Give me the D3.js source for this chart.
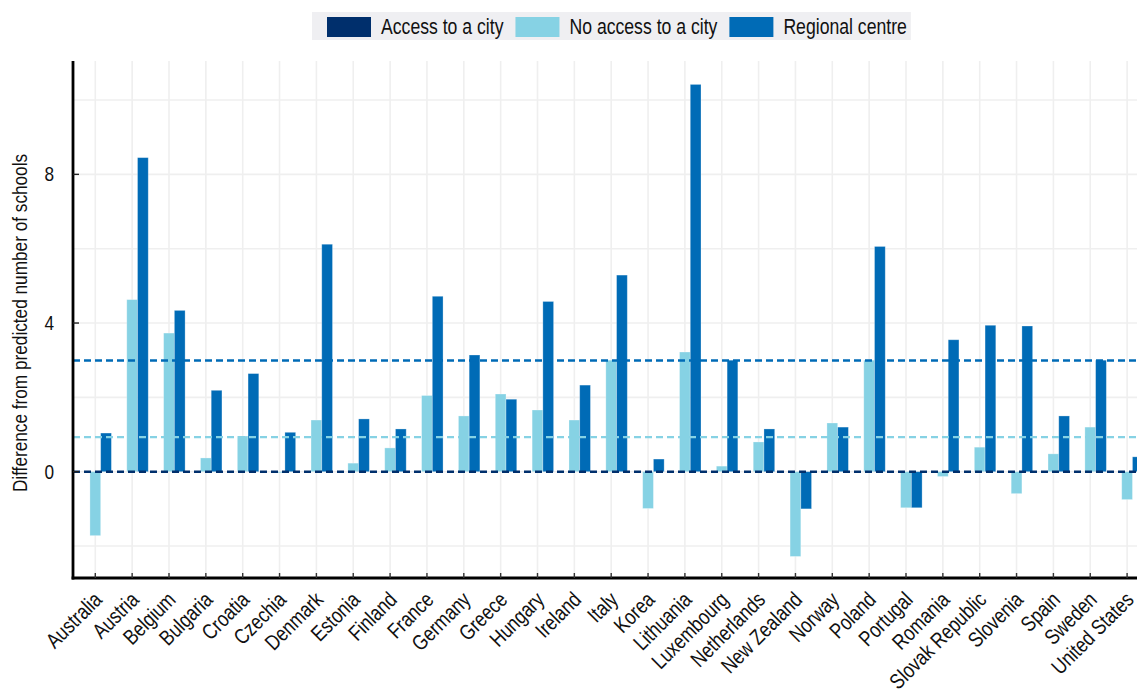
<!DOCTYPE html>
<html>
<head>
<meta charset="utf-8">
<script src="https://cdn.jsdelivr.net/npm/d3@7"></script>
<style>
  html, body { margin: 0; padding: 0; background: #fff; }
  svg { display: block; font-family: "Liberation Sans", Arial, sans-serif; }
</style>
</head>
<body>
<svg id="chart" width="1137" height="696"></svg>
<script>
// Countries along the x axis
const countries = ["Australia", "Austria", "Belgium", "Bulgaria", "Croatia", "Czechia", "Denmark",
  "Estonia", "Finland", "France", "Germany", "Greece", "Hungary", "Ireland", "Italy", "Korea",
  "Lithuania", "Luxembourg", "Netherlands", "New Zealand", "Norway", "Poland", "Portugal",
  "Romania", "Slovak Republic", "Slovenia", "Spain", "Sweden", "United States"];

// Difference from predicted number of schools, by municipality type
const accessToCity = [0, 0, 0, 0, 0, 0, 0, 0, 0, 0, 0, 0, 0, 0, 0, 0, 0, 0, 0, 0, 0, 0, 0, 0, 0, 0, 0, 0, 0];
const noAccessToCity = [-1.72, 4.63, 3.73, 0.37, 0.96, -0.03, 1.39, 0.23, 0.64, 2.05, 1.50, 2.09, 1.66, 1.39,
  3.00, -0.99, 3.22, 0.15, 0.80, -2.28, 1.31, 3.00, -0.97, -0.13, 0.66, -0.59, 0.48, 1.20, -0.75];
const regionalCentre = [1.04, 8.45, 4.34, 2.19, 2.64, 1.06, 6.12, 1.42, 1.15, 4.72, 3.14, 1.95, 4.58, 2.33,
  5.29, 0.34, 10.42, 3.00, 1.15, -1.00, 1.20, 6.06, -0.97, 3.55, 3.94, 3.92, 1.50, 3.00, 0.40];

// Cross-country averages, drawn as dashed reference lines
const seriesAverages = [0, 0.93, 2.99];

const seriesNames = ["Access to a city", "No access to a city", "Regional centre"];
const seriesColors = ["#002F6C", "#86D2E4", "#006BB6"];
const yTickValues = [0, 4, 8];
const yGridValues = [-2, 0, 2, 4, 6, 8, 10];

const series = [accessToCity, noAccessToCity, regionalCentre];

const svg = d3.select("#chart");
const plot = { left: 73, right: 1137, top: 61, bottom: 578 };
const SQUEEZE = 0.82; // narrow typeface look

const x = d3.scalePoint().domain(countries).range([95.3, 1127.1]);
const sub = d3.scaleBand().domain(seriesNames).range([-16.1, 16.1]);
const y = d3.scaleLinear().domain([-2.86, 11.05]).range([plot.bottom, plot.top]);

// Clip the plotting area
svg.append("defs").append("clipPath").attr("id", "plotClip")
  .append("rect").attr("x", plot.left).attr("y", plot.top - 2)
  .attr("width", plot.right - plot.left).attr("height", plot.bottom - plot.top + 2);

const gridG = svg.append("g").attr("clip-path", "url(#plotClip)");
// Vertical gridlines
gridG.selectAll("line.vg").data(countries).join("line")
  .attr("x1", d => x(d)).attr("x2", d => x(d))
  .attr("y1", plot.top).attr("y2", plot.bottom)
  .attr("stroke", "#efefef").attr("stroke-width", 1.6);
// Horizontal gridlines
gridG.selectAll("line.hg").data(yGridValues).join("line")
  .attr("x1", plot.left).attr("x2", plot.right)
  .attr("y1", d => y(d)).attr("y2", d => y(d))
  .attr("stroke", "#efefef").attr("stroke-width", 1.6);

// Bars
const barG = svg.append("g").attr("clip-path", "url(#plotClip)");
series.forEach((vals, si) => {
  barG.append("g").selectAll("rect").data(vals.map((v, i) => ({ c: countries[i], v })))
    .join("rect")
    .attr("x", d => x(d.c) + sub(seriesNames[si]))
    .attr("width", sub.bandwidth())
    .attr("y", d => y(Math.max(0, d.v)))
    .attr("height", d => Math.abs(y(d.v) - y(0)))
    .attr("fill", seriesColors[si])
    .attr("stroke", "rgba(255,255,255,0.35)")
    .attr("stroke-width", 0.8);
});

// Dashed average lines
const avgOrder = [1, 2, 0];
avgOrder.forEach(si => {
  svg.append("line")
    .attr("x1", plot.left).attr("x2", plot.right)
    .attr("y1", y(seriesAverages[si])).attr("y2", y(seriesAverages[si]))
    .attr("stroke", seriesColors[si]).attr("stroke-width", 2.4)
    .attr("stroke-dasharray", "7,4");
});

// Axes
const axisG = svg.append("g");
axisG.append("line").attr("x1", plot.left).attr("x2", plot.left)
  .attr("y1", plot.top).attr("y2", plot.bottom + 1.5)
  .attr("stroke", "#000").attr("stroke-width", 2.8);
axisG.append("line").attr("x1", plot.left - 1.4).attr("x2", plot.right)
  .attr("y1", plot.bottom).attr("y2", plot.bottom)
  .attr("stroke", "#000").attr("stroke-width", 2.8);

// Y ticks (inward) and labels
axisG.selectAll("line.yt").data(yTickValues).join("line")
  .attr("x1", plot.left).attr("x2", plot.left + 6)
  .attr("y1", d => y(d)).attr("y2", d => y(d))
  .attr("stroke", "#222").attr("stroke-width", 1.4);
axisG.selectAll("g.yl").data(yTickValues).join("g")
  .attr("transform", d => `translate(54,${y(d)})`)
  .append("text")
  .attr("transform", `scale(${SQUEEZE},1)`)
  .attr("text-anchor", "end").attr("dominant-baseline", "central")
  .attr("font-size", 21).attr("fill", "#111")
  .text(d => d3.format("d")(d));

// X ticks (inward) and rotated labels
axisG.selectAll("line.xt").data(countries).join("line")
  .attr("x1", d => x(d)).attr("x2", d => x(d))
  .attr("y1", plot.bottom - 5).attr("y2", plot.bottom)
  .attr("stroke", "#333").attr("stroke-width", 1.4);
axisG.selectAll("text.xl").data(countries).join("text")
  .attr("transform", d => `translate(${x(d) + 8},${plot.bottom + 23}) rotate(-45) scale(${SQUEEZE},1)`)
  .attr("text-anchor", "end")
  .attr("font-size", 21.5).attr("fill", "#111")
  .text(d => d);

// Y axis title
svg.append("text")
  .attr("transform", `translate(20,323) rotate(-90) scale(${SQUEEZE},1)`)
  .attr("text-anchor", "middle").attr("dominant-baseline", "central")
  .attr("font-size", 21).attr("fill", "#111")
  .text("Difference from predicted number of schools");

// Legend
const legend = svg.append("g");
const legendBox = legend.append("rect").attr("x", 312).attr("y", 12).attr("height", 28)
  .attr("fill", "#efeff2");
let lx = 327;
seriesNames.forEach((name, i) => {
  legend.append("rect").attr("x", lx).attr("y", 17).attr("width", 44).attr("height", 20)
    .attr("fill", seriesColors[i]);
  const tg = legend.append("g").attr("transform", `translate(${lx + 54},34)`);
  const t = tg.append("text").attr("transform", `scale(${SQUEEZE},1)`)
    .attr("font-size", 21.5).attr("fill", "#111").text(name);
  const tw = t.node().getComputedTextLength() * SQUEEZE;
  lx = lx + 54 + tw + 12;
});
legendBox.attr("width", lx - 312 - 8);
</script>
</body>
</html>
